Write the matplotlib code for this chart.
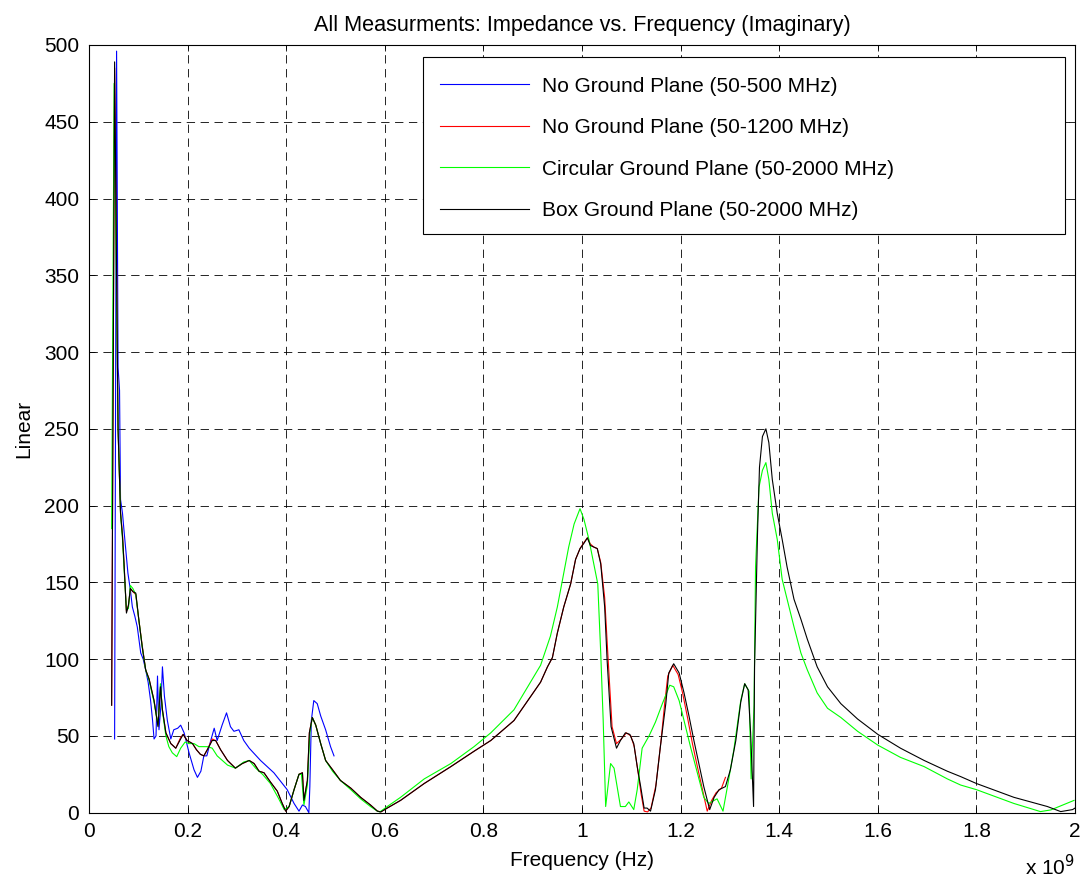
import numpy as np
import matplotlib
matplotlib.use('Agg')
import matplotlib.pyplot as plt
from matplotlib.patches import Rectangle
from matplotlib.ticker import FuncFormatter

plt.rcParams['font.family'] = ['Liberation Sans', 'DejaVu Sans']
plt.rcParams['lines.scale_dashes'] = False

# Frequency in MHz, imaginary impedance values
blue_f = [52, 56, 59, 62, 64, 68, 71, 75, 79, 84, 88, 93, 98, 105, 110, 115, 120, 125,
          129, 132, 136, 139, 142, 146, 149, 153, 159, 166, 172, 180, 186, 193, 203, 213,
          220, 227, 233, 239, 247, 254, 260, 270, 279, 287, 294, 304, 314, 325, 348, 375,
          402, 416, 426, 433, 439, 446, 448, 451, 456, 463, 470, 480, 490, 497]
blue_v = [48, 496, 290, 275, 204, 195, 184, 170, 156, 145, 134, 128, 121, 104, 100, 93, 85, 73,
          60, 48, 50, 89, 54, 70, 95, 76, 60, 48, 54, 55, 57, 52, 39, 28,
          23, 27, 37, 37, 47, 55, 47, 57, 65, 56, 53, 54, 47, 42, 34, 26,
          15, 6, 1, 5, 4, 0, 17, 60, 73, 71, 63, 54, 43, 37]

red_f = [46, 52, 59, 64, 68, 71, 76, 80, 84, 89, 95, 101, 108, 115, 122, 132, 140, 145,
         149, 156, 166, 176, 186, 191, 199, 210, 218, 226, 233, 240, 250, 257, 267, 281,
         297, 311, 325, 335, 345, 355, 368, 382, 392, 399, 406, 416, 426, 433, 436, 443,
         447, 453, 460, 470, 480, 494, 510, 531, 551, 571, 585, 592, 605, 632, 680, 734,
         781, 815, 862, 916, 930, 940, 950, 963, 977, 987, 996, 1004, 1011, 1017, 1024,
         1031, 1038, 1046, 1053, 1061, 1070, 1080, 1090, 1099, 1106, 1113, 1120, 1126,
         1133, 1140, 1150, 1160, 1168, 1174, 1184, 1195, 1204, 1214, 1224, 1234, 1245,
         1254, 1263, 1272, 1283, 1291]
red_v = [70, 485, 250, 196, 181, 163, 131, 135, 146, 144, 142, 126, 109, 93, 87, 73, 57, 82,
         67, 52, 45, 42, 49, 51, 47, 45, 41, 38, 37, 41, 48, 47, 41, 34,
         29, 32, 34, 32, 27, 26, 20, 14, 6, 1, 4, 15, 25, 26, 8, 21,
         52, 62, 57, 45, 34, 28, 21, 16, 10, 5, 1, 0.5, 3, 8, 19, 30,
         40, 47, 60, 85, 95, 101, 117, 134, 149, 165, 172, 176, 179, 175, 173,
         172, 163, 140, 100, 56, 45, 48, 52, 50, 43, 28, 12, 1,
         0.5, 3, 18, 46, 72, 89, 96, 90, 78, 62, 45, 30, 14,
         1, 8, 13, 16, 23]

green_f = [46, 51, 59, 64, 68, 71, 76, 80, 84, 89, 95, 101, 108, 115, 122, 132, 140, 145,
           149, 156, 162, 169, 178, 186, 195, 203, 213, 223, 240, 250, 260, 281, 297, 314,
           325, 338, 352, 368, 385, 396, 406, 416, 426, 431, 436, 443, 448, 453, 460, 470,
           480, 494, 510, 531, 551, 571, 585, 590, 605, 632, 680, 734, 781, 815, 862, 916,
           936, 950, 963, 973, 984, 996, 1004, 1014, 1024, 1032, 1038, 1043, 1048, 1058,
           1065, 1078, 1088, 1095, 1105, 1112, 1122, 1136, 1149, 1163, 1178, 1186, 1197,
           1207, 1220, 1234, 1247, 1257, 1268, 1274, 1286, 1295, 1308, 1322, 1330, 1339,
           1343, 1349, 1352, 1359, 1366, 1373, 1379, 1386, 1396, 1406, 1416, 1430, 1444,
           1457, 1477, 1498, 1525, 1559, 1600, 1646, 1694, 1741, 1768, 1800, 1876, 1930,
           1951, 1998]
green_v = [185, 475, 250, 195, 178, 160, 132, 133, 148, 146, 142, 126, 108, 93, 86, 72, 57, 84,
           66, 50, 43, 39, 36.5, 42, 46, 45, 45, 43, 43, 42, 37, 31, 29, 33,
           34, 29, 25, 19, 9, 2, 4, 15, 25, 25, 5, 18, 52, 62, 57, 45,
           34, 27, 21, 15, 9, 4, 1, 0.5, 4, 10, 22, 32, 43, 52, 67, 96,
           115, 134, 156, 173, 188, 198, 191, 178, 162, 149, 104, 60, 4, 32,
           29, 4, 4, 7, 2, 15, 42, 50, 59, 71, 83, 82, 73,
           60, 43, 26, 10, 6, 8, 9, 1, 17, 41, 73, 84, 79,
           22, 70, 160, 212, 223, 228, 217, 195, 178, 152, 139, 121, 104,
           93, 78, 68, 62, 53, 44, 36, 30, 22, 18, 15, 6, 0.7,
           1.8, 8]

black_f = [46, 52, 59, 64, 68, 71, 76, 80, 84, 89, 95, 101, 108, 115, 122, 132, 140, 145,
           149, 156, 166, 176, 186, 191, 199, 210, 218, 226, 233, 240, 250, 257, 267, 281,
           297, 311, 325, 335, 345, 355, 368, 382, 392, 399, 406, 416, 426, 433, 436, 443,
           447, 453, 460, 470, 480, 494, 510, 531, 551, 571, 585, 592, 605, 632, 680, 734,
           781, 815, 862, 916, 930, 940, 950, 963, 977, 987, 996, 1004, 1011, 1017, 1024,
           1031, 1038, 1046, 1051, 1059, 1070, 1078, 1088, 1097, 1105, 1112, 1119, 1126,
           1132, 1139, 1149, 1159, 1170, 1176, 1186, 1197, 1207, 1217, 1227, 1237, 1247,
           1259, 1268, 1278, 1291, 1301, 1312, 1322, 1330, 1337, 1342, 1348, 1350, 1356,
           1360, 1366, 1373, 1379, 1386, 1396, 1406, 1416, 1430, 1444, 1457, 1477, 1498,
           1525, 1559, 1600, 1646, 1694, 1741, 1768, 1800, 1876, 1944, 1971, 1995, 2000]
black_v = [70, 489, 250, 195, 180, 163, 130, 135, 146, 144, 143, 126, 108, 93, 87, 73, 56, 82,
           67, 52, 45, 42, 48, 51, 47, 45, 41, 38, 37, 41, 47, 47, 41, 34,
           29, 32, 34, 32, 27, 26, 20, 14, 6, 1, 4, 15, 25, 26, 8, 21,
           52, 62, 57, 45, 34, 28, 21, 16, 10, 5, 1, 0.5, 3, 8, 19, 30,
           40, 47, 60, 85, 95, 101, 117, 134, 149, 165, 172, 175.5, 179, 174, 173,
           172, 162, 134, 99, 56, 42, 47, 52, 51, 45, 30, 17, 3,
           3, 1, 15, 43, 71, 91, 97, 91, 78, 63, 47, 32, 17,
           2, 10, 15, 17, 28, 47, 72, 84, 80, 52, 4, 95, 182,
           225, 245, 250, 241, 217, 195, 178, 160, 139, 126, 113, 95, 82,
           71, 61, 51, 42, 34, 27, 23.5, 19, 10, 4, 0.7, 2, 3]

labels = ['No Ground Plane (50-500 MHz)', 'No Ground Plane (50-1200 MHz)',
          'Circular Ground Plane (50-2000 MHz)', 'Box Ground Plane (50-2000 MHz)']

fs = 15
fig = plt.figure(figsize=(10.85, 8.82), dpi=100)
ax = fig.add_axes([0.082, 0.0786, 0.9088, 0.8704])

mhz = 1e6
ax.plot(np.array(blue_f) * mhz, blue_v, color=(0, 0, 1), lw=0.8, label=labels[0])
ax.plot(np.array(red_f) * mhz, red_v, color=(1, 0, 0), lw=0.8, label=labels[1])
ax.plot(np.array(green_f) * mhz, green_v, color=(0, 1, 0), lw=0.8, label=labels[2])
ax.plot(np.array(black_f) * mhz, black_v, color='k', lw=0.8, label=labels[3])

ax.set_xlim(0, 2e9)
ax.set_ylim(0, 500)
ax.set_xticks(np.arange(0, 2.01e9, 0.2e9))
ax.set_yticks(np.arange(0, 501, 50))
ax.xaxis.set_major_formatter(FuncFormatter(lambda v, p: '%g' % round(v / 1e9, 1)))
ax.tick_params(direction='in', top=True, right=True, length=4, width=0.6,
               labelsize=fs, pad=7)
ax.grid(True, color='k', lw=0.6, linestyle=(0, (6, 4)))
for s in ax.spines.values():
    s.set_linewidth(0.8)

ax.set_title('All Measurments: Impedance vs. Frequency (Imaginary)', fontsize=15.6, pad=10)
ax.set_xlabel('Frequency (Hz)', fontsize=fs, labelpad=7)
ax.set_ylabel('Linear', fontsize=fs, labelpad=8)
fig.text(0.9447, 0.0079, r'x 10$^{9}$', fontsize=fs, ha='left', va='baseline')

# MATLAB-style legend box, wider than its text
box = Rectangle((0.3387, 0.7538), 0.6512, 0.2306, transform=ax.transAxes,
                facecolor='white', edgecolor='k', lw=0.8, zorder=4)
ax.add_patch(box)
leg = ax.legend(loc='upper left', bbox_to_anchor=(0.3357, 0.9844), borderaxespad=0,
                fontsize=fs, handlelength=4.3, handletextpad=0.62, labelspacing=1.08,
                borderpad=0.95, frameon=False)
leg.set_zorder(5)

fig.savefig('out.png', dpi=100)
